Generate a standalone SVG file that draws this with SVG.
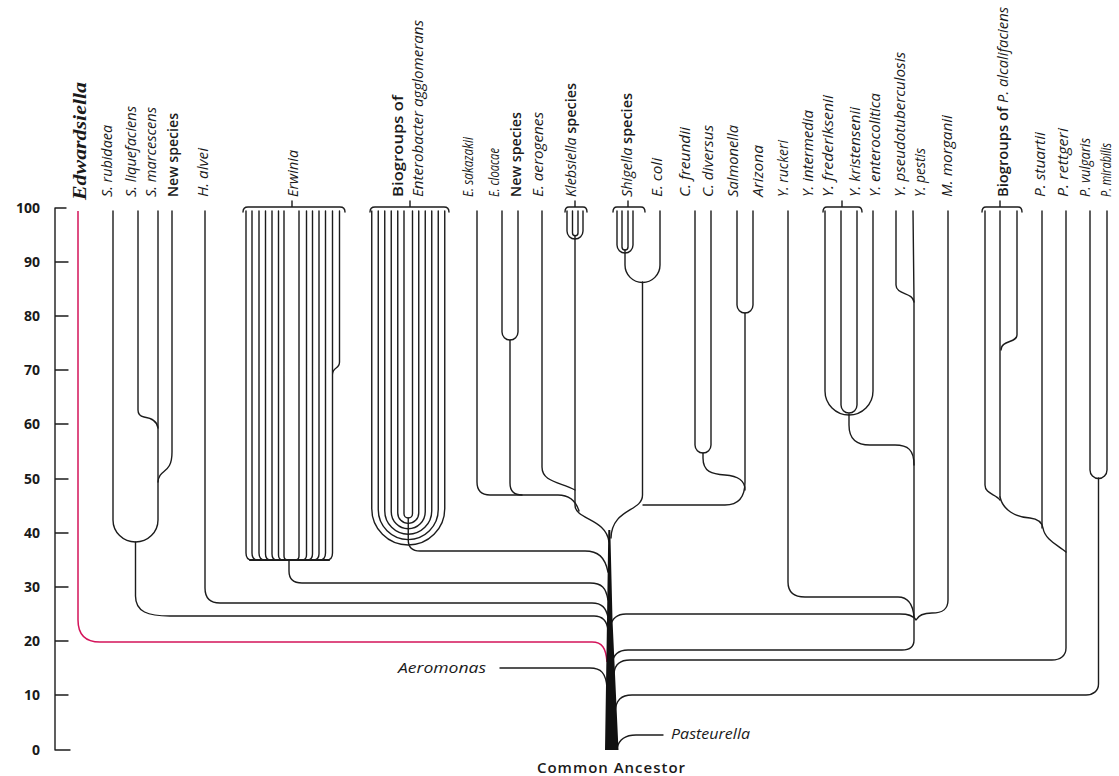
<svg xmlns="http://www.w3.org/2000/svg" width="1119" height="776" viewBox="0 0 1119 776">
<style>
.ln{fill:none;stroke:#1c1c1c;stroke-width:1.4;stroke-linecap:round;stroke-linejoin:round}
.red{fill:none;stroke:#d4145a;stroke-width:1.5}
.lbl{font-family:"Open Sans","Liberation Sans",sans-serif;font-size:14px;font-style:italic;fill:#1a1a1a}
.b{font-style:normal;font-weight:600}
.ax{font-family:"Open Sans","Liberation Sans",sans-serif;font-size:14px;font-weight:700;fill:#1a1a1a;text-anchor:end}
.hl{font-family:"Open Sans","Liberation Sans",sans-serif;font-size:15px;font-style:italic;fill:#1a1a1a}
</style>
<rect width="1119" height="776" fill="#ffffff"/>
<g id="axis">
<path class="ln" d="M66,208H55V750H70M55,262H68M55,316H68M55,370H68M55,424H68M55,479H68M55,533H68M55,587H68M55,641H68M55,695H68"/>
<text class="ax" x="40" y="213">100</text>
<text class="ax" x="40" y="267">90</text>
<text class="ax" x="40" y="321">80</text>
<text class="ax" x="40" y="375">70</text>
<text class="ax" x="40" y="429">60</text>
<text class="ax" x="40" y="484">50</text>
<text class="ax" x="40" y="538">40</text>
<text class="ax" x="40" y="592">30</text>
<text class="ax" x="40" y="646">20</text>
<text class="ax" x="40" y="700">10</text>
<text class="ax" x="40" y="755">0</text>
</g>
<g id="connectors">
<path class="red" d="M78,211V620Q78,642 100,642H592C602,642 606,648 607,662"/>
<!-- Serratia -->
<path class="ln" d="M113,211V520A22.5,22 0 0 0 158,520V211"/>
<path class="ln" d="M138,211V410Q138,416 144,417Q157,419 158,428"/>
<path class="ln" d="M172,211V452C172,475 159,468 158,482"/>
<path class="ln" d="M135.5,542V596C135.5,612 148,616 170,616H594C603,616 607,621 608,630"/>
<!-- H. alvei -->
<path class="ln" d="M205,211V588Q205,603 220,603H592C602,603 606,608 608,617"/>
<!-- Erwinia -->
<path class="ln" d="M243,212Q243,207 248,207H340Q345,207 345,212M292,207V201"/>
<path class="ln" d="M246,211V553Q246,560 252,560M252,211V553Q252,560 258,560M259,211V553Q259,560 265,560M265.5,211V554Q265.5,560 271,560M272,211V554Q272,560 277,560M278.5,211V555Q278.5,560 283,560M284,211V556Q284,560 288,560M299,211V556Q299,560 295,560M306.5,211V555Q306.5,560 302,560M312.5,211V554Q312.5,560 307,560M319,211V554Q319,560 313,560M325.5,211V553Q325.5,560 319.5,560M332.5,211V553Q332.5,560 326.5,560M339.5,211V362C339.5,370 332.5,366 332.5,375"/>
<path class="ln" style="stroke-width:2.2" d="M250,560H329"/>
<path class="ln" d="M289,560V571Q289,583 302,583H590C602,583 606,588 608,600"/>
<!-- Enterobacter agglomerans -->
<path class="ln" d="M370,212Q370,207 375,207H444Q449,207 449,212M410,207V201"/>
<path class="ln" d="M371.75,211V508.5A36.5,36.5 0 0 0 444.75,508.5V211M378.25,211V509.6A30,30 0 0 0 438.25,509.6V211M384.75,211V510.7A23.5,23.5 0 0 0 431.75,510.7V211M391.25,211V511.8A17,17 0 0 0 425.25,511.8V211M397.75,211V512.9A10.5,10.5 0 0 0 418.75,512.9V211M404,211V513.75A4.25,4.25 0 0 0 412.5,513.75V211"/>
<path class="ln" d="M408.25,518V540Q408.25,551 420,551H585C598,551 605,557 608,572"/>
<!-- Enterobacter / Klebsiella -->
<path class="ln" d="M477,211V482Q477,495 490,495H558Q574,495 579,511"/>
<path class="ln" d="M502,211V332A8,8 0 0 0 518,332V211"/>
<path class="ln" d="M510,340V483Q510,495 522,495"/>
<path class="ln" d="M542,211V467C542,482 560,482 575,490"/>
<path class="ln" d="M565,212Q565,207 569,207H583Q587,207 587,212M575,207V201"/>
<path class="ln" d="M567,211V231A8,8 0 0 0 583,231V211M572.5,211V233A2.75,2.75 0 0 0 578,233V211"/>
<path class="ln" d="M575,236V505C575,520 606,518 609,542"/>
<!-- Shigella / E. coli -->
<path class="ln" d="M613,212Q613,207 617,207H641Q645,207 645,212M628,207V201"/>
<path class="ln" d="M617,211V245A8,8 0 0 0 633,245V211M622,211V247A3,3 0 0 0 628,247V211"/>
<path class="ln" d="M625,250V265A17.5,17.5 0 0 0 660,265V211"/>
<path class="ln" d="M642.5,282V495C642.5,512 612,508 611,538"/>
<!-- Citrobacter / Salmonella -->
<path class="ln" d="M695,211V445A8,8 0 0 0 711,445V211"/>
<path class="ln" d="M703,453V458C703,472 712,474 725,475C738,476 745,480 745,490"/>
<path class="ln" d="M737,211V305A8,8 0 0 0 753,305V211"/>
<path class="ln" d="M745,313V482C745,498 738,505 725,505H643"/>
<!-- Yersinia -->
<path class="ln" d="M788,211V582C788,593 795,597 805,597H898C908,597 913,605 914,617"/>
<path class="ln" d="M823,212Q823,207 827,207H858Q862,207 862,212M842,207V201"/>
<path class="ln" d="M825,211V391A24,24 0 0 0 873,391V211M841,211V405A8,8 0 0 0 857,405V211"/>
<path class="ln" d="M849,414V425C849,440 857,445 870,445H895C908,445 914,450 914,465"/>
<path class="ln" d="M896,211V285C896,295 913,292 914,302"/>
<path class="ln" d="M913,211L914,300V640C914,647 910,650 902,650H628C618,650 613,655 612,664"/>
<path class="ln" d="M948,211V600C948,610 942,613 932,613C922,613 918,616 916,620C913,615 908,614 900,614H626C617,614 612,618 610,627"/>
<!-- Providencia / Proteus -->
<path class="ln" d="M982,212Q982,207 986,207H1018Q1022,207 1022,212M1000,207V201"/>
<path class="ln" d="M1017,211V335C1017,343 1001,340 1001,350"/>
<path class="ln" d="M1000,211V497"/>
<path class="ln" d="M985,211V485C985,494 996,494 1000,500"/>
<path class="ln" d="M1000,497C1003,510 1015,517 1030,518C1038,519 1042,522 1043,528C1045,540 1058,545 1066,552"/>
<path class="ln" d="M1042,211V528"/>
<path class="ln" d="M1066,211V648C1066,656 1060,660 1052,660H630C620,660 615,664 614,673"/>
<path class="ln" d="M1090,211V470A8.5,8.5 0 0 0 1107,470V211"/>
<path class="ln" d="M1098.5,478V684C1098.5,691 1093,695 1086,695H632C621,695 616,700 615,712"/>
<!-- Aeromonas / Pasteurella -->
<path class="ln" d="M500,668H590C601,668 606,673 607,688"/>
<path class="ln" d="M663,735H636C624,735 619,740 617,748"/>
<!-- trunk -->
<path fill="#111" d="M608.3,530L610.3,530L612.5,620L618.5,750L605,750L607,620Z"/>
</g>
<g id="n-edwardsiella"><text transform="translate(86,200) rotate(-90)" textLength="118" lengthAdjust="spacingAndGlyphs" style="font-family:'Liberation Serif',serif;font-size:19px;font-style:italic;font-weight:700;fill:#1a1a1a">Edwardsiella</text></g>
<g id="n-s-rubidaea"><text class="lbl" transform="translate(112,197) rotate(-90)" textLength="72" lengthAdjust="spacingAndGlyphs">S. rubidaea</text></g>
<g id="n-s-liquefaciens"><text class="lbl" transform="translate(136,197) rotate(-90)" textLength="91" lengthAdjust="spacingAndGlyphs">S. liquefaciens</text></g>
<g id="n-s-marcescens"><text class="lbl" transform="translate(156,197) rotate(-90)" textLength="90" lengthAdjust="spacingAndGlyphs">S. marcescens</text></g>
<g id="n-new-species-1"><text class="lbl b" transform="translate(178,197) rotate(-90)" textLength="84" lengthAdjust="spacingAndGlyphs">New species</text></g>
<g id="n-h-alvei"><text class="lbl" transform="translate(208,197) rotate(-90)" textLength="49" lengthAdjust="spacingAndGlyphs">H. alvei</text></g>
<g id="n-erwinia"><text class="lbl" transform="translate(298,197) rotate(-90)" textLength="47" lengthAdjust="spacingAndGlyphs">Erwinia</text></g>
<g id="n-enterobacter-agglomerans"><text class="lbl b" transform="translate(403,197) rotate(-90)" textLength="102" lengthAdjust="spacingAndGlyphs">Biogroups of</text><text class="lbl" transform="translate(423,197) rotate(-90)" textLength="177" lengthAdjust="spacingAndGlyphs">Enterobacter agglomerans</text></g>
<g id="n-e-sakazakii"><text class="lbl" transform="translate(473,197) rotate(-90)" textLength="60" lengthAdjust="spacingAndGlyphs">E. sakazakii</text></g>
<g id="n-e-cloacae"><text class="lbl" transform="translate(499,197) rotate(-90)" textLength="49" lengthAdjust="spacingAndGlyphs">E. cloacae</text></g>
<g id="n-new-species-2"><text class="lbl b" transform="translate(521,197) rotate(-90)" textLength="85" lengthAdjust="spacingAndGlyphs">New species</text></g>
<g id="n-e-aerogenes"><text class="lbl" transform="translate(543,197) rotate(-90)" textLength="85" lengthAdjust="spacingAndGlyphs">E. aerogenes</text></g>
<g id="n-klebsiella"><text class="lbl" transform="translate(576,197) rotate(-90)" textLength="114" lengthAdjust="spacingAndGlyphs">Klebsiella <tspan class="b">species</tspan></text></g>
<g id="n-shigella"><text class="lbl" transform="translate(632,197) rotate(-90)" textLength="104" lengthAdjust="spacingAndGlyphs">Shigella <tspan class="b">species</tspan></text></g>
<g id="n-e-coli"><text class="lbl" transform="translate(662,197) rotate(-90)" textLength="39" lengthAdjust="spacingAndGlyphs">E. coli</text></g>
<g id="n-c-freundii"><text class="lbl" transform="translate(690,197) rotate(-90)" textLength="70" lengthAdjust="spacingAndGlyphs">C. freundii</text></g>
<g id="n-c-diversus"><text class="lbl" transform="translate(713,197) rotate(-90)" textLength="72" lengthAdjust="spacingAndGlyphs">C. diversus</text></g>
<g id="n-salmonella"><text class="lbl" transform="translate(738,197) rotate(-90)" textLength="72" lengthAdjust="spacingAndGlyphs">Salmonella</text></g>
<g id="n-arizona"><text class="lbl" transform="translate(763,197) rotate(-90)" textLength="52" lengthAdjust="spacingAndGlyphs">Arizona</text></g>
<g id="n-y-ruckeri"><text class="lbl" transform="translate(788,197) rotate(-90)" textLength="57" lengthAdjust="spacingAndGlyphs">Y. ruckeri</text></g>
<g id="n-y-intermedia"><text class="lbl" transform="translate(813,197) rotate(-90)" textLength="87" lengthAdjust="spacingAndGlyphs">Y. intermedia</text></g>
<g id="n-y-frederiksenii"><text class="lbl" transform="translate(833,197) rotate(-90)" textLength="102" lengthAdjust="spacingAndGlyphs">Y. frederiksenii</text></g>
<g id="n-y-kristensenii"><text class="lbl" transform="translate(860,197) rotate(-90)" textLength="90" lengthAdjust="spacingAndGlyphs">Y. kristensenii</text></g>
<g id="n-y-enterocolitica"><text class="lbl" transform="translate(880,197) rotate(-90)" textLength="104" lengthAdjust="spacingAndGlyphs">Y. enterocolitica</text></g>
<g id="n-y-pseudotuberculosis"><text class="lbl" transform="translate(905,197) rotate(-90)" textLength="145" lengthAdjust="spacingAndGlyphs">Y. pseudotuberculosis</text></g>
<g id="n-y-pestis"><text class="lbl" transform="translate(925,197) rotate(-90)" textLength="49" lengthAdjust="spacingAndGlyphs">Y. pestis</text></g>
<g id="n-m-morganii"><text class="lbl" transform="translate(952,197) rotate(-90)" textLength="82" lengthAdjust="spacingAndGlyphs">M. morganii</text></g>
<g id="n-p-alcalifaciens"><text class="lbl" transform="translate(1008,197) rotate(-90)" textLength="190" lengthAdjust="spacingAndGlyphs"><tspan class="b">Biogroups of </tspan>P. alcalifaciens</text></g>
<g id="n-p-stuartii"><text class="lbl" transform="translate(1045,197) rotate(-90)" textLength="65" lengthAdjust="spacingAndGlyphs">P. stuartii</text></g>
<g id="n-p-rettgeri"><text class="lbl" transform="translate(1068,197) rotate(-90)" textLength="69" lengthAdjust="spacingAndGlyphs">P. rettgeri</text></g>
<g id="n-p-vulgaris"><text class="lbl" transform="translate(1090,197) rotate(-90)" textLength="59" lengthAdjust="spacingAndGlyphs">P. vulgaris</text></g>
<g id="n-p-mirabilis"><text class="lbl" transform="translate(1111,197) rotate(-90)" textLength="54" lengthAdjust="spacingAndGlyphs">P. mirabilis</text></g>
<g id="n-aeromonas"><text class="hl" x="398" y="673" textLength="88" lengthAdjust="spacingAndGlyphs">Aeromonas</text></g>
<g id="n-pasteurella"><text class="hl" x="671" y="739" textLength="79" lengthAdjust="spacingAndGlyphs">Pasteurella</text></g>
<g id="n-common-ancestor"><text x="537" y="773" textLength="148" style="font-family:'Open Sans','Liberation Sans',sans-serif;font-size:15px;font-weight:600;fill:#1a1a1a">Common Ancestor</text></g>
</svg>
